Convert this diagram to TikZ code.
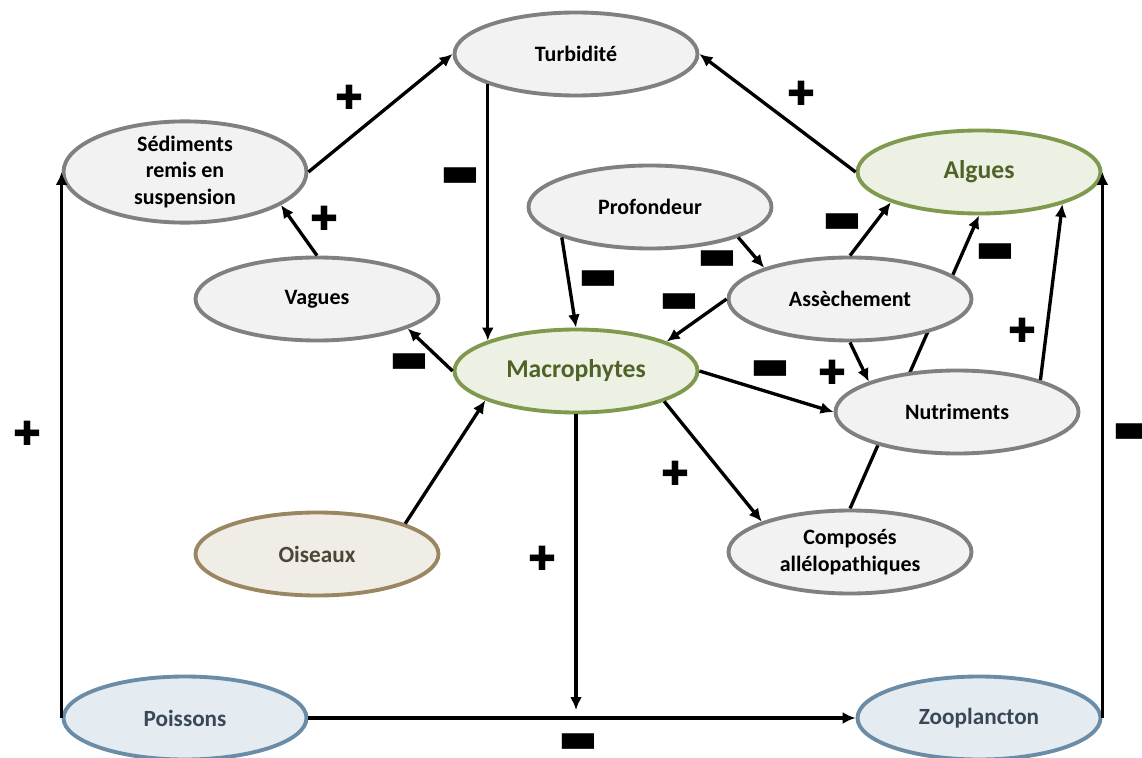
\documentclass[tikz,border=0pt]{standalone}
\usepackage{fontspec}
\setmainfont{Carlito}
\newfontfamily\signfont{DejaVu Sans}
\usetikzlibrary{shapes, arrows.meta, positioning, backgrounds}
\definecolor{greyfill}{HTML}{F2F2F2}
\definecolor{greyline}{HTML}{808080}
\definecolor{greenfill}{HTML}{EDF1E4}
\definecolor{greenline}{HTML}{7F9A4E}
\definecolor{greentext}{HTML}{4F6228}
\definecolor{brownfill}{HTML}{EFEDE6}
\definecolor{brownline}{HTML}{9A8660}
\definecolor{browntext}{HTML}{4D4538}
\definecolor{bluefill}{HTML}{E4EBF1}
\definecolor{blueline}{HTML}{6B8CA6}
\definecolor{bluetext}{HTML}{3A4856}
\tikzstyle{ell} = [ellipse, minimum width=4.86cm, minimum height=1.66cm, inner sep=0pt, line width=2.2pt, text centered, align=center]
\tikzstyle{factor} = [ell, draw=greyline, fill=greyfill, font=\bfseries\fontsize{12.5}{15}\selectfont]
\tikzstyle{plant} = [ell, draw=greenline, fill=greenfill, text=greentext, font=\bfseries\fontsize{14.6}{17}\selectfont]
\tikzstyle{bird} = [ell, draw=brownline, fill=brownfill, text=browntext, font=\bfseries\fontsize{13.2}{16}\selectfont]
\tikzstyle{fish} = [ell, draw=blueline, fill=bluefill, text=bluetext, font=\bfseries\fontsize{13.2}{16}\selectfont]
\tikzstyle{arrow} = [-{Latex[length=2.6mm,width=2.4mm]}, line width=1.9pt]
\tikzstyle{plus} = [font=\signfont\fontsize{19}{19}\selectfont, inner sep=0pt]
\tikzstyle{minus} = [font=\signfont\fontsize{24}{24}\selectfont, inner sep=0pt]

\begin{document}
\begin{tikzpicture}

    \useasboundingbox (0,0) rectangle (22.84,-15.16);

    \node (turb) [factor] at (11.52,-1.08) {Turbidité};
    \node (sed) [factor] at (3.70,-3.44) {Sédiments\\remis en\\suspension};
    \node (vag) [factor] at (6.34,-5.98) {Vagues};
    \node (prof) [factor] at (13.0,-4.14) {Profondeur};
    \node (alg) [plant] at (19.58,-3.44) {Algues};
    \node (ass) [factor] at (17.0,-5.98) {Assèchement};
    \node (mac) [plant] at (11.52,-7.42) {Macrophytes};
    \node (nut) [factor] at (19.14,-8.24) {Nutriments};
    \node (ois) [bird] at (6.34,-11.08) {Oiseaux};
    \node (comp) [factor] at (17.0,-11.04) {Composés\\allélopathiques};
    \node (poi) [fish] at (3.70,-14.36) {Poissons};
    \node (zoo) [fish] at (19.58,-14.36) {Zooplancton};
    \coordinate (drop) at (mac.south |- poi.east);

    \begin{scope}[on background layer]
        \draw [arrow] (comp.north) -- (alg.south);
    \end{scope}

    \draw [arrow] (sed.east) -- (turb.west);
    \draw [arrow] (vag.north) -- (sed.-19);
    \draw [arrow] (turb.-161) -- (mac.161);
    \draw [arrow] (mac.west) -- (vag.-18);
    \draw [arrow] (alg.west) -- (turb.east);
    \draw [arrow] (prof.-161) -- (mac.north);
    \draw [arrow] (prof.-19) -- (ass.160);
    \draw [arrow] (ass.west) -- (mac.18);
    \draw [arrow] (ass.north) -- (alg.-161);
    \draw [arrow] (ass.south) -- (nut.161);
    \draw [arrow] (nut.21) -- (alg.-21);
    \draw [arrow] (mac.east) -- (nut.west);
    \draw [arrow] (mac.-19) -- (comp.161);
    \draw [arrow] (ois.19) -- (mac.-162);
    \draw [arrow, shorten >=0.16cm] (mac.south) -- (drop);
    \draw [arrow] (poi.east) -- (zoo.west);
    \draw [arrow] (poi.west) -- (sed.west);
    \draw [arrow] (zoo.east) -- (alg.east);

    \node (s1) [plus] at (6.98,-1.94) {✚};
    \node (s2) [plus] at (6.48,-4.36) {✚};
    \node (s3) [minus] at (9.20,-3.54) {▬};
    \node (s4) [minus] at (8.18,-7.26) {▬};
    \node (s5) [plus] at (16.02,-1.86) {✚};
    \node (s6) [minus] at (11.96,-5.60) {▬};
    \node (s7) [minus] at (14.34,-5.20) {▬};
    \node (s8) [minus] at (13.58,-6.06) {▬};
    \node (s9) [minus] at (16.84,-4.46) {▬};
    \node (s10) [minus] at (19.90,-5.06) {▬};
    \node (s11) [plus] at (20.44,-6.60) {✚};
    \node (s12) [minus] at (15.40,-7.40) {▬};
    \node (s13) [plus] at (16.64,-7.44) {✚};
    \node (s14) [plus] at (13.50,-9.46) {✚};
    \node (s15) [plus] at (10.84,-11.16) {✚};
    \node (s16) [minus] at (11.56,-14.86) {▬};
    \node (s17) [plus] at (0.54,-8.66) {✚};
    \node (s18) [minus] at (22.64,-8.66) {▬};

\end{tikzpicture}
\end{document}
